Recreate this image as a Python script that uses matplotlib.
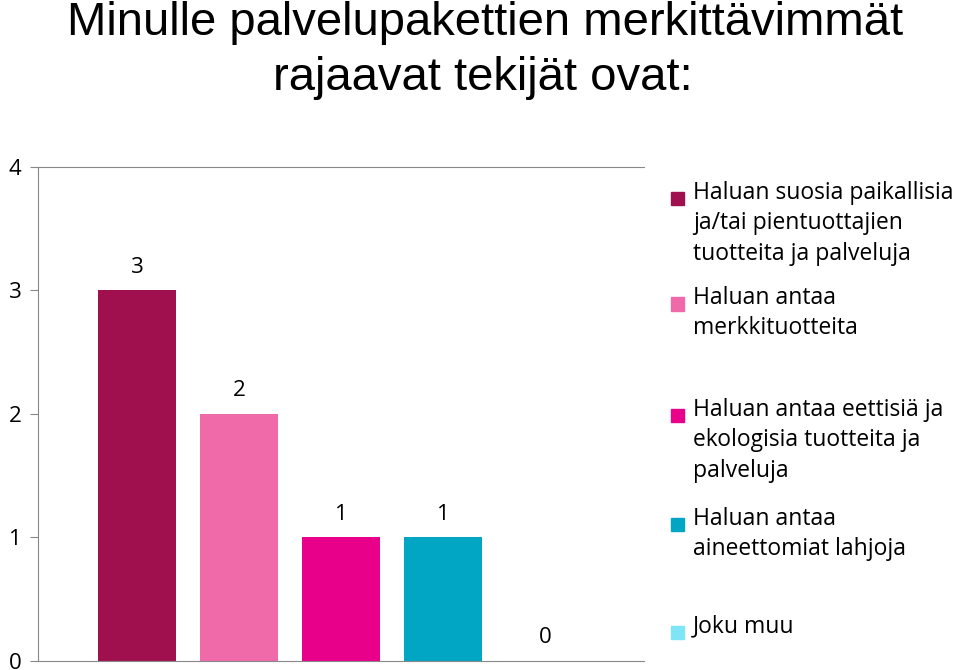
import matplotlib.pyplot as plt
from matplotlib.patches import Rectangle

plt.rcParams['font.family'] = 'Open Sans'

series = ['Haluan suosia paikallisia\nja/tai pientuottajien\ntuotteita ja palveluja',
          'Haluan antaa\nmerkkituotteita',
          'Haluan antaa eettisiä ja\nekologisia tuotteita ja\npalveluja',
          'Haluan antaa\naineettomiat lahjoja',
          'Joku muu']
values = [3, 2, 1, 1, 0]
colors = ['#A0104F', '#F06AAA', '#E8008A', '#00A6C4', '#7DE5F5']
legend_y = [0.705, 0.548, 0.381, 0.219, 0.058]

fig = plt.figure(figsize=(9.6, 6.7), dpi=100)
ax = fig.add_axes([0.04, 0.014, 0.631, 0.737])
for i, (v, c) in enumerate(zip(values, colors)):
    ax.bar(i, v, width=0.765, color=c)
    ax.text(i, v + 0.1, str(v), ha='center', va='bottom', fontsize=16)
ax.set_xlim(-0.97, 4.97)
ax.set_ylim(0, 4)
ax.set_yticks(range(5))
ax.set_xticks([])
ax.tick_params(axis='y', labelsize=16, color='#888888', length=6, pad=6)
for s in ['left', 'bottom', 'top']:
    ax.spines[s].set_color('#888888')
ax.spines['right'].set_visible(False)

fig.text(0.505, 0.965, 'Minulle palvelupakettien merkittävimmät', ha='center', va='center',
         fontsize=34, family='Liberation Sans')
fig.text(0.503, 0.884, 'rajaavat tekijät ovat:', ha='center', va='center',
         fontsize=34, family='Liberation Sans')

for lab, c, y in zip(series, colors, legend_y):
    fig.patches.append(Rectangle((0.699, y - 0.0115), 0.0135, 0.0195,
                                 transform=fig.transFigure, color=c))
    fig.text(0.722, y + 0.025, lab, ha='left', va='top', fontsize=16.5,
             linespacing=1.35)

fig.savefig('out.png')
